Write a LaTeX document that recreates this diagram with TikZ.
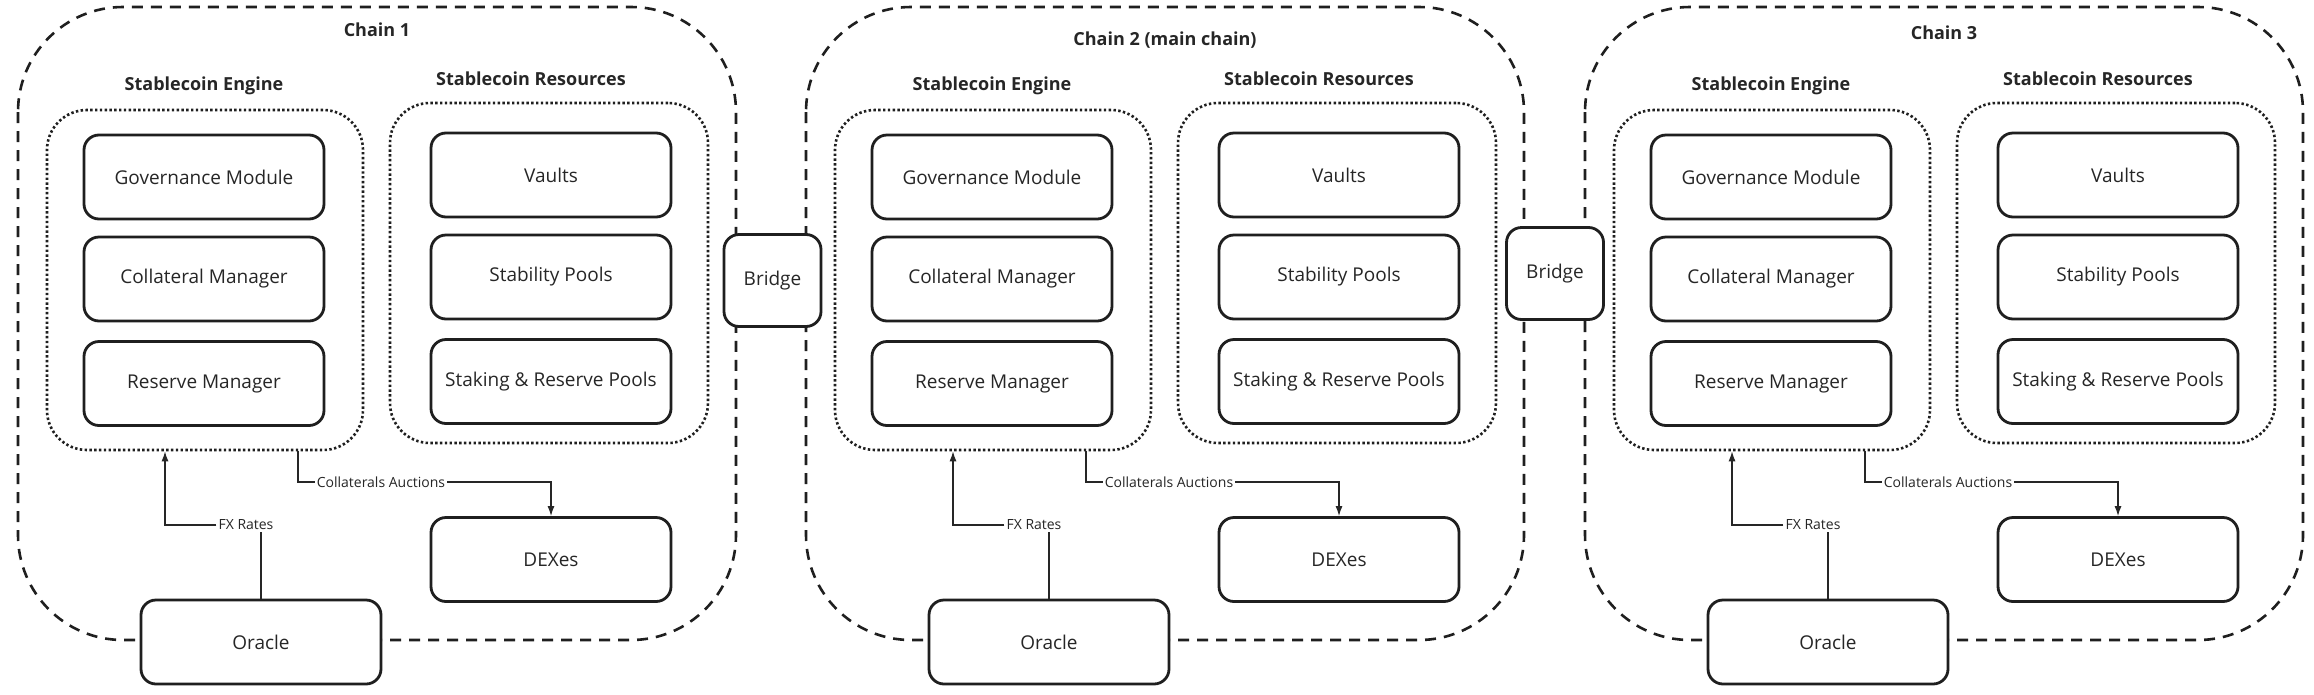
\documentclass[tikz,border=0pt]{standalone}
\usepackage{fontspec}
\setmainfont{Open Sans}
\usetikzlibrary{arrows.meta,calc}
\tikzset{
  chainbox/.style={draw=black!88, line width=2.6pt, dash pattern=on 11pt off 8pt, rounded corners=105pt},
  groupbox/.style={draw=black!88, line width=2.6pt, dash pattern=on 2.4pt off 2.4pt, rounded corners=40pt, inner sep=0pt},
  comp/.style={draw=black!88, fill=white, line width=2.8pt, rounded corners=15pt, minimum width=240pt, minimum height=84pt, inner sep=0pt, font=\fontsize{19}{22}\selectfont, text=black!85},
  bridgebox/.style={comp, minimum width=97pt, minimum height=92pt},
  ttl/.style={font=\bfseries\fontsize{18}{21}\selectfont, text=black!85},
  lbl/.style={font=\fontsize{14}{16}\selectfont, text=black!85, inner sep=2pt, fill=white},
  conn/.style={draw=black!85, line width=1.3pt},
  arr/.style={conn, -{Latex[length=10pt,width=7pt]}}
}
\begin{document}
\begin{tikzpicture}[x=1pt,y=-1pt]
\useasboundingbox[fill=white] (0,0) rectangle (2314,694);
\foreach \i/\dx/\ty/\title in {1/0/30/Chain 1, 2/788/40/Chain 2 (main chain), 3/1567/33/Chain 3}{
  \begin{scope}[xshift=\dx pt]
    \draw[chainbox] (18,7) rectangle (736,640);
    \node[ttl] (title\i) at (377,\ty) {\title};
    \node[ttl] (englbl\i) at (204,86) {Stablecoin Engine};
    \node[ttl] (reslbl\i) at (531,79) {Stablecoin Resources};
    \node[groupbox, minimum width=316pt, minimum height=340pt] (engine\i) at (205,280) {};
    \node[groupbox, minimum width=318pt, minimum height=340pt] (res\i) at (549,273) {};
    \node[comp] (gov\i) at (204,177) {Governance Module};
    \node[comp] (col\i) at (204,279) {Collateral Manager};
    \node[comp] (rsv\i) at (204,383.5) {Reserve Manager};
    \node[comp] (vau\i) at (551,175) {Vaults};
    \node[comp] (stb\i) at (551,277) {Stability Pools};
    \node[comp] (stk\i) at (551,381.5) {Staking \& Reserve Pools};
    \node[comp] (dex\i) at (551,559.5) {DEXes};
    \node[comp] (ora\i) at (261,642) {Oracle};
    \node[lbl] (fx\i) at (246,525) {FX Rates};
    \node[lbl] (ca\i) at (381,482) {Collaterals Auctions};
    \draw[conn] (ora\i.north) -- (ora\i.north |- fx\i.south);
    \draw[arr] (fx\i.west) -| ([xshift=-40pt]engine\i.south);
    \draw[conn] ([xshift=93pt]engine\i.south) |- (ca\i.west);
    \draw[arr] (ca\i.east) -| (dex\i.north);
  \end{scope}
}
\node[bridgebox] (bridge1) at (772.5,280.5) {Bridge};
\node[bridgebox] (bridge2) at (1555,273.5) {Bridge};
\end{tikzpicture}
\end{document}
